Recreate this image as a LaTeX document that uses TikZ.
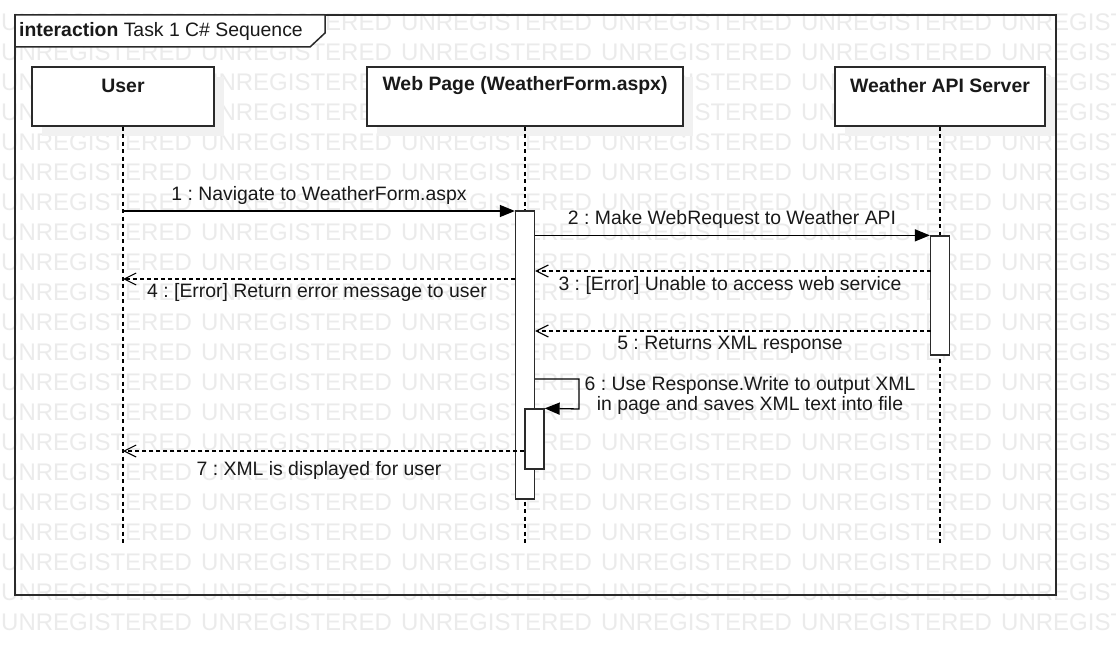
\documentclass[tikz,border=0pt]{standalone}
\usepackage{fontspec}
\setmainfont{Liberation Sans}
\usetikzlibrary{arrows.meta,calc}
\frenchspacing
\definecolor{wmc}{HTML}{EBEBEB}
\definecolor{shc}{HTML}{F1F1F1}
\definecolor{lnc}{HTML}{2A2A2A}
\tikzset{
  lbl/.style={inner sep=0pt, font=\fontsize{19.4}{19.5}\selectfont, text=black!90},
  wm/.style={inner sep=0pt, anchor=west, font=\fontsize{24}{24}\selectfont, text=wmc},
  hdrbox/.style={draw=lnc, fill=white, line width=1.3pt, inner sep=0pt, minimum width=#1, minimum height=59pt},
  bar/.style={draw=lnc, fill=white, line width=1.3pt, inner sep=0pt, minimum width=19pt},
  life/.style={draw=black, line width=1.3pt, dash pattern=on 4pt off 3.5pt},
  sync/.style={draw=black, line width=1.3pt, -{Triangle[length=15pt,width=12pt]}},
  reply/.style={draw=black, line width=1.2pt, dash pattern=on 4pt off 3pt, -{Straight Barb[length=12pt,width=12pt,line width=1.1pt]}},
  frm/.style={draw=lnc, line width=1.5pt}
}
\begin{document}
\begin{tikzpicture}[x=1pt,y=-1pt]
\clip (0,0) rectangle (1116,655);
\fill[white] (0,0) rectangle (1116,655);
% watermark
\foreach \r in {0,...,20}{
  \foreach \c in {0,...,5}{
    \node[wm] (wm\r-\c) at ({200*\c+1},{22+30*\r}) {UNREGISTERED};
  }
}
% frame
\draw[frm] (15,15) rectangle (1056,595);
\draw[frm, fill=white] (15,15) -- (325,15) -- (325,33) -- (310,47) -- (15,47) -- cycle;
\node[lbl, anchor=base west] (title) at (19,37) {\textbf{interaction} Task 1 C\# Sequence};
% shadows
\fill[shc] (42,77) rectangle (224,136);
\fill[shc] (377,77) rectangle (693,136);
\fill[shc] (845,77) rectangle (1055,136);
% header boxes
\node[hdrbox=182pt] (user) at (123,96.5) {};
\node[hdrbox=316pt] (web) at (525,96.5) {};
\node[hdrbox=210pt] (api) at (940,96.5) {};
\node[lbl] (userl) at (123,86) {\textbf{User}};
\node[lbl] (webl) at (525,86) {\textbf{Web Page (WeatherForm.aspx)}};
\node[lbl] (apil) at (940,86) {\textbf{Weather API Server}};
% lifelines
\coordinate (userend) at (123,545);
\coordinate (webend) at (525,545);
\coordinate (apiend) at (940,545);
\draw[life] (user.south) -- (userend);
\draw[life] (web.south) -- (webend);
\draw[life] (api.south) -- (apiend);
% activation bars
\node[bar, minimum height=288pt] (wbar) at (525,355) {};
\node[bar, minimum height=119pt] (abar) at (940,295.5) {};
\node[bar, minimum height=60pt] (nbar) at (534.5,439) {};
% messages
\coordinate (u1) at (123,211);
\coordinate (u4) at (123,279);
\coordinate (u7) at (123,451);
\coordinate (a3) at (930.5,271);
\coordinate (a5) at (930.5,331);
\coordinate (s1) at (579,379);
\coordinate (s2) at (579,409);
\draw[sync] (u1) -- (u1 -| wbar.west);
\draw[sync] (wbar.east |- abar.north west) -- (abar.north west);
\draw[reply] (a3) -- (a3 -| wbar.east);
\draw[reply] (u4 -| wbar.west) -- (u4);
\draw[reply] (a5) -- (a5 -| wbar.east);
\draw[sync] (s1 -| wbar.east) -- (s1) -- (s2) -- (nbar.north east);
\draw[reply] (u7 -| nbar.west) -- (u7);
% labels
\node[lbl] (m1) at (319,195) {1 : Navigate to WeatherForm.aspx};
\node[lbl] (m2) at (732,219) {2 : Make WebRequest to Weather API};
\node[lbl] (m3) at (730,285) {3 : [Error] Unable to access web service};
\node[lbl] (m4) at (317,292) {4 : [Error] Return error message to user};
\node[lbl] (m5) at (730,345) {5 : Returns XML response};
\node[lbl, align=center] (m6) at (750,395.5) {6 : Use Response.Write to output XML\\in page and saves XML text into file};
\node[lbl] (m7) at (319,470) {7 : XML is displayed for user};
\end{tikzpicture}
\end{document}
